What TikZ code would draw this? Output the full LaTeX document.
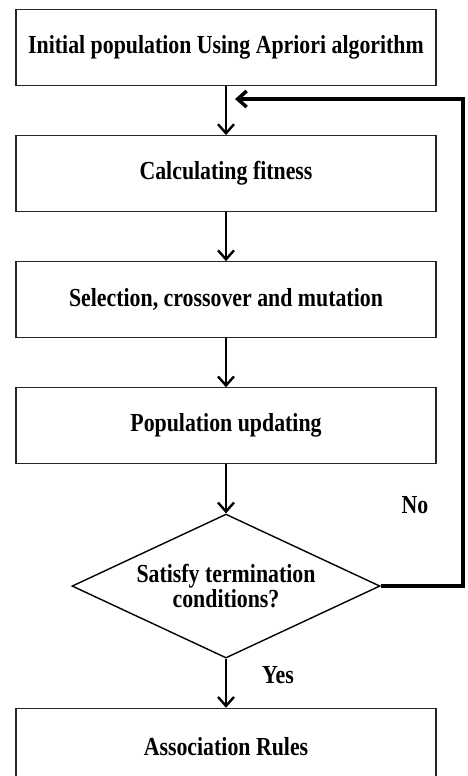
\documentclass[tikz,border=0pt]{standalone}
\usepackage{fontspec}
\newfontfamily\flowfont{Liberation Serif}[FakeStretch=0.84]
\usetikzlibrary{positioning, shapes.geometric, arrows.meta}

\tikzset{
  procbox/.style={draw=black!85, line width=1.1pt, minimum width=420pt, minimum height=76pt, inner sep=0pt},
  decbox/.style={diamond, draw, line width=1.4pt, aspect=2.1, inner sep=0pt, minimum width=308pt, minimum height=144pt, align=center},
  flow/.style={-{Straight Barb[length=9pt,width=16pt]}, line width=2.4pt},
  txt/.style={font=\flowfont\bfseries\fontsize{26}{23}\selectfont},
}

\begin{document}
\begin{tikzpicture}[x=1pt, y=1pt, node distance=49pt, every node/.append style={txt}]
			\useasboundingbox (0,0) rectangle (467,-776);
			\node[procbox] (init) at (226,-47.5) {Initial population Using Apriori algorithm};
			\node[procbox, below=of init] (fit) {Calculating fitness};
			\node[procbox, below=of fit] (sel) {Selection, crossover and mutation};
			\node[procbox, below=of sel] (upd) {Population updating};
			\node[decbox, below=of upd] (cond) {Satisfy termination\\conditions?};
			\node[procbox, below=of cond] (rules) {Association Rules};
			\coordinate[below=13pt of init] (join);
			\coordinate (back) at (463,0);
			\node (no) at (415,-505) {No};
			\node (yes) at (278,-675) {Yes};
			\draw[flow] (init) -- (fit);
			\draw[flow] (fit) -- (sel);
			\draw[flow] (sel) -- (upd);
			\draw[flow] (upd) -- (cond);
			\draw[flow] (cond) -- (rules);
			\draw[flow, line width=3.5pt] (cond.east) -- (cond.east -| back) |- ([xshift=9pt]join);
		\end{tikzpicture}
\end{document}
